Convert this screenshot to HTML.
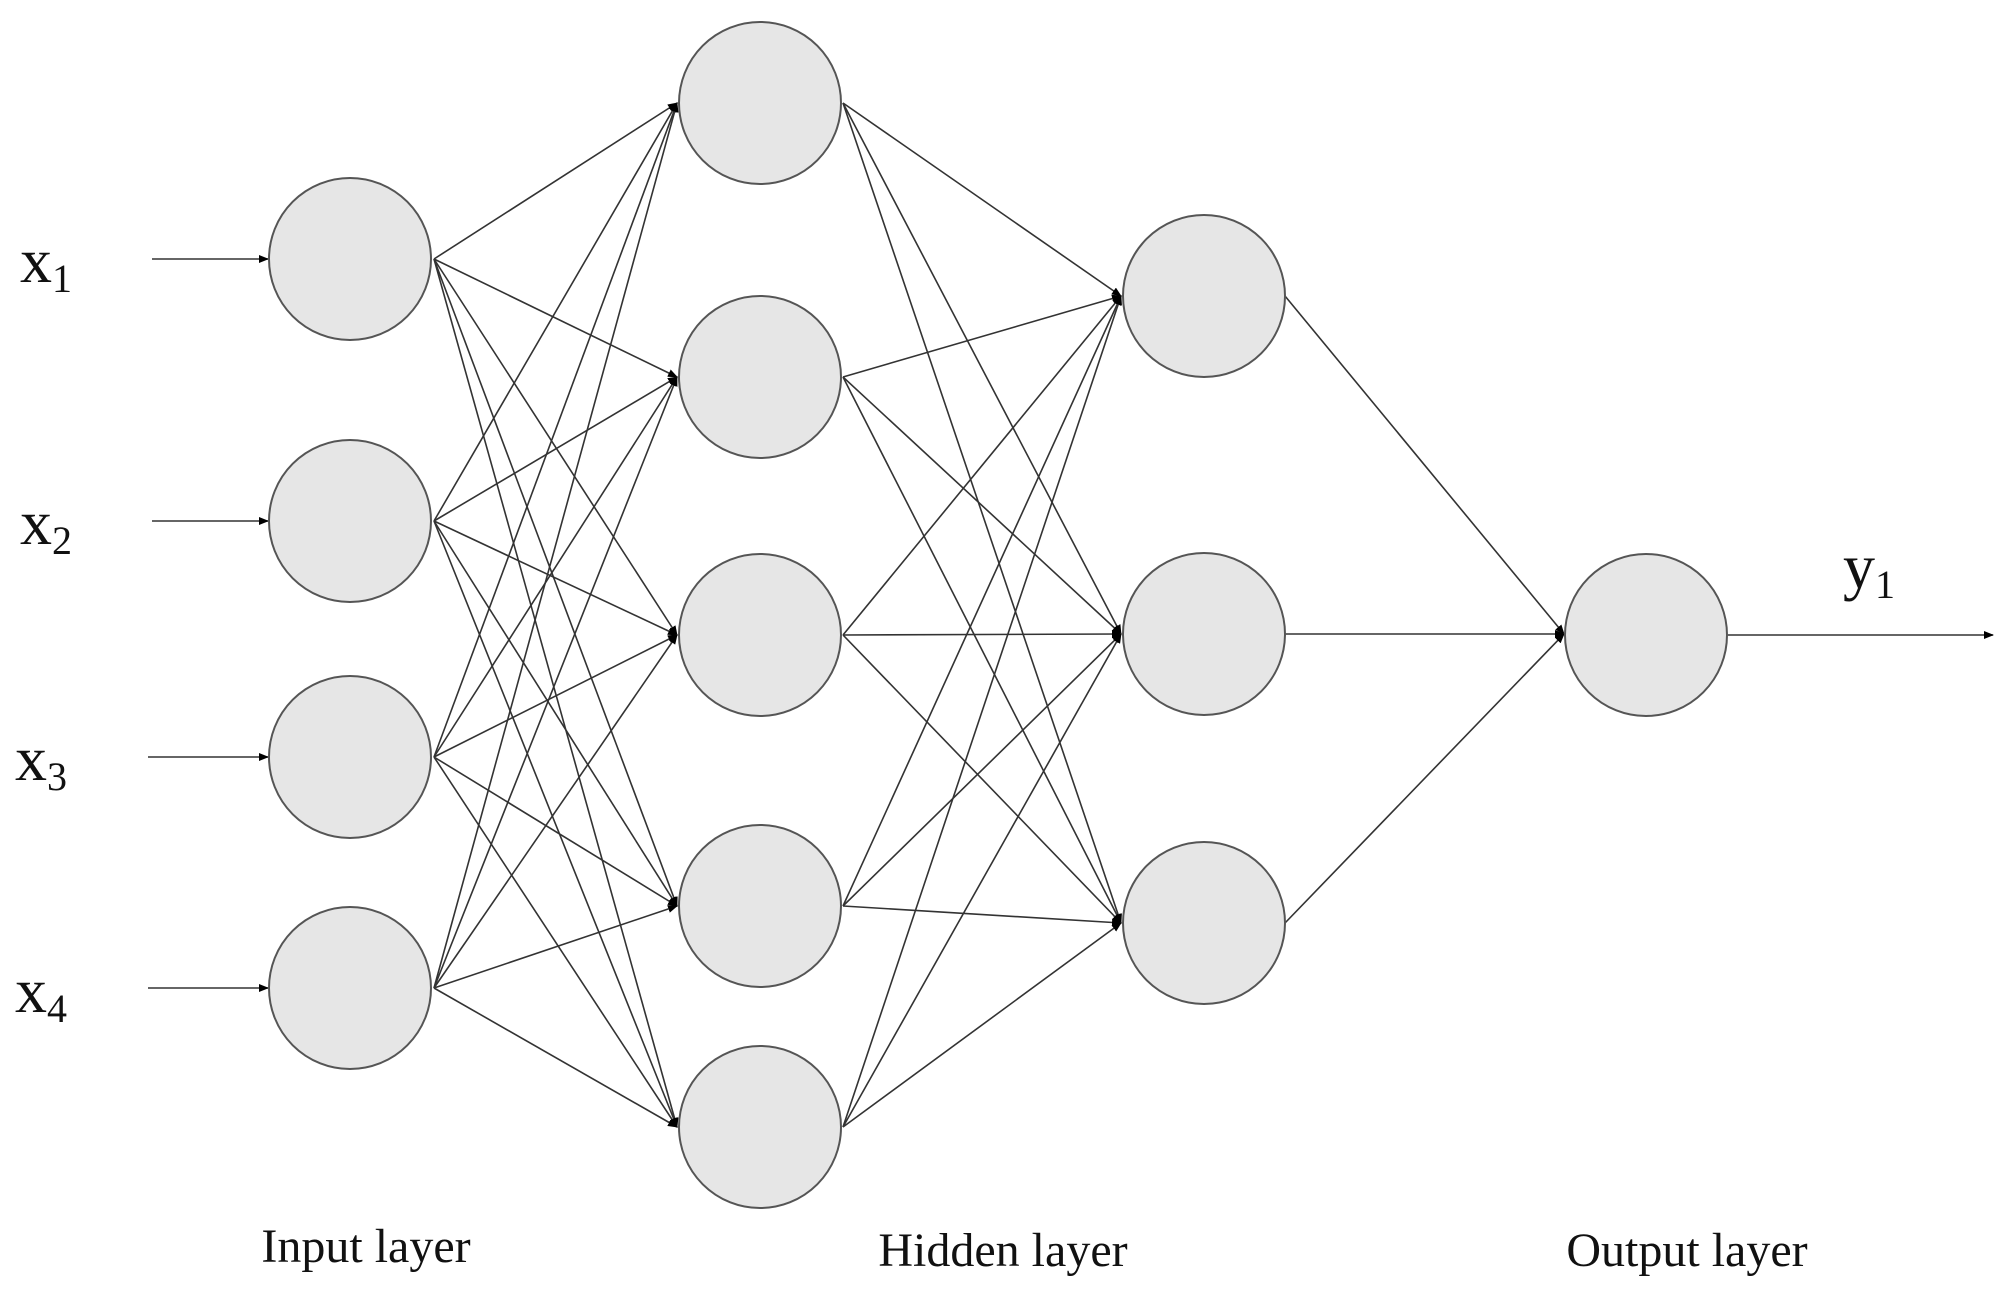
<!DOCTYPE html>
<html><head><meta charset="utf-8"><style>
html,body{margin:0;padding:0;background:#fff;}
svg{display:block;}
text{font-family:"Liberation Serif",serif;fill:#111;}
</style></head><body>
<svg width="2012" height="1310" viewBox="0 0 2012 1310" xmlns="http://www.w3.org/2000/svg">
<defs>
<marker id="a" markerWidth="10" markerHeight="8" refX="9" refY="4" orient="auto" markerUnits="userSpaceOnUse">
<path d="M0,0 L10,4 L0,8 z" fill="#000"/>
</marker>
</defs>
<g stroke="#333" stroke-width="1.6" fill="none" marker-end="url(#a)">
<!-- input arrows -->
<line x1="152" y1="259" x2="268" y2="259"/>
<line x1="152" y1="521" x2="268" y2="521"/>
<line x1="148" y1="757" x2="268" y2="757"/>
<line x1="148" y1="988" x2="268" y2="988"/>
<!-- input -> hidden -->
<line x1="434" y1="259" x2="677" y2="103"/><line x1="434" y1="259" x2="677" y2="377"/><line x1="434" y1="259" x2="677" y2="635"/><line x1="434" y1="259" x2="677" y2="906"/><line x1="434" y1="259" x2="677" y2="1127"/>
<line x1="434" y1="521" x2="677" y2="103"/><line x1="434" y1="521" x2="677" y2="377"/><line x1="434" y1="521" x2="677" y2="635"/><line x1="434" y1="521" x2="677" y2="906"/><line x1="434" y1="521" x2="677" y2="1127"/>
<line x1="434" y1="757" x2="677" y2="103"/><line x1="434" y1="757" x2="677" y2="377"/><line x1="434" y1="757" x2="677" y2="635"/><line x1="434" y1="757" x2="677" y2="906"/><line x1="434" y1="757" x2="677" y2="1127"/>
<line x1="434" y1="988" x2="677" y2="103"/><line x1="434" y1="988" x2="677" y2="377"/><line x1="434" y1="988" x2="677" y2="635"/><line x1="434" y1="988" x2="677" y2="906"/><line x1="434" y1="988" x2="677" y2="1127"/>
<!-- hidden -> layer3 -->
<line x1="843" y1="103" x2="1121" y2="296"/><line x1="843" y1="103" x2="1121" y2="634"/><line x1="843" y1="103" x2="1121" y2="923"/>
<line x1="843" y1="377" x2="1121" y2="296"/><line x1="843" y1="377" x2="1121" y2="634"/><line x1="843" y1="377" x2="1121" y2="923"/>
<line x1="843" y1="635" x2="1121" y2="296"/><line x1="843" y1="635" x2="1121" y2="634"/><line x1="843" y1="635" x2="1121" y2="923"/>
<line x1="843" y1="906" x2="1121" y2="296"/><line x1="843" y1="906" x2="1121" y2="634"/><line x1="843" y1="906" x2="1121" y2="923"/>
<line x1="843" y1="1127" x2="1121" y2="296"/><line x1="843" y1="1127" x2="1121" y2="634"/><line x1="843" y1="1127" x2="1121" y2="923"/>
<!-- layer3 -> output -->
<line x1="1285" y1="296" x2="1564" y2="634"/><line x1="1285" y1="634" x2="1564" y2="634"/><line x1="1285" y1="923" x2="1564" y2="634"/>
<!-- output arrow -->
<line x1="1728" y1="635" x2="1993" y2="635"/>
</g>
<g fill="#e6e6e6" stroke="#555" stroke-width="2">
<circle cx="350" cy="259" r="81"/><circle cx="350" cy="521" r="81"/><circle cx="350" cy="757" r="81"/><circle cx="350" cy="988" r="81"/>
<circle cx="760" cy="103" r="81"/><circle cx="760" cy="377" r="81"/><circle cx="760" cy="635" r="81"/><circle cx="760" cy="906" r="81"/><circle cx="760" cy="1127" r="81"/>
<circle cx="1204" cy="296" r="81"/><circle cx="1204" cy="634" r="81"/><circle cx="1204" cy="923" r="81"/>
<circle cx="1646" cy="635" r="81"/>
</g>
<g font-size="64">
<text x="20" y="282">x<tspan font-size="40" dy="10">1</tspan></text>
<text x="20" y="544">x<tspan font-size="40" dy="10">2</tspan></text>
<text x="15" y="780">x<tspan font-size="40" dy="10">3</tspan></text>
<text x="15" y="1012">x<tspan font-size="40" dy="10">4</tspan></text>
<text x="1843" y="588">y<tspan font-size="40" dy="10">1</tspan></text>
</g>
<g font-size="48" text-anchor="middle">
<text x="366" y="1262">Input layer</text>
<text x="1003" y="1266">Hidden layer</text>
<text x="1687" y="1266">Output layer</text>
</g>
</svg>
</body></html>
